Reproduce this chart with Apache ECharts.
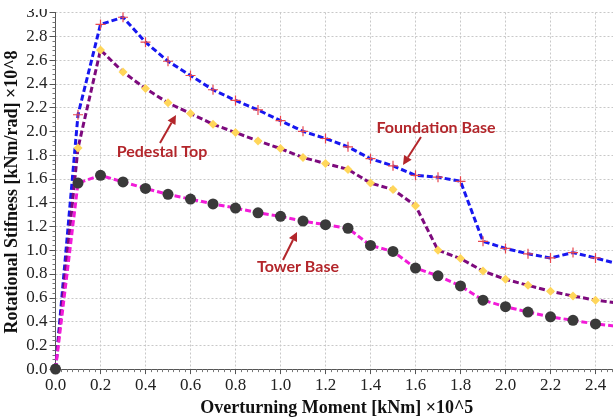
<!DOCTYPE html>
<html>
<head>
<meta charset="utf-8">
<script src="https://cdn.jsdelivr.net/npm/echarts@6/dist/echarts.min.js"></script>
<style>
html,body{margin:0;padding:0;overflow:hidden;background:#fff;width:613px;height:418px;}
#c{position:absolute;left:0;top:-8px;width:625px;height:430px;}
</style>
</head>
<body>
<div id="c"></div>
<script>
// ---- data ----
var moment = [0, 0.1, 0.2, 0.3, 0.4, 0.5, 0.6, 0.7, 0.8, 0.9, 1.0, 1.1, 1.2, 1.3, 1.4, 1.5, 1.6, 1.7, 1.8, 1.9, 2.0, 2.1, 2.2, 2.3, 2.4, 2.5];
var foundationBase = [0, 2.14, 2.90, 2.96, 2.75, 2.59, 2.47, 2.35, 2.26, 2.18, 2.09, 2.00, 1.94, 1.87, 1.77, 1.71, 1.63, 1.615, 1.58, 1.075, 1.015, 0.97, 0.935, 0.98, 0.935, 0.885];
var pedestalTop = [0, 1.86, 2.685, 2.50, 2.36, 2.24, 2.15, 2.06, 1.99, 1.92, 1.855, 1.78, 1.73, 1.68, 1.565, 1.51, 1.375, 1.00, 0.93, 0.825, 0.755, 0.705, 0.655, 0.615, 0.58, 0.555];
var towerBase = [0, 1.565, 1.63, 1.575, 1.52, 1.47, 1.43, 1.39, 1.355, 1.315, 1.285, 1.245, 1.215, 1.185, 1.04, 0.99, 0.85, 0.785, 0.70, 0.58, 0.525, 0.48, 0.44, 0.41, 0.38, 0.36];
var seriesNames = ['Foundation Base', 'Pedestal Top', 'Tower Base'];
var xTitle = 'Overturning Moment [kNm] \u00d710^5';
var yTitle = 'Rotational Stifness [kNm/rad] \u00d710^8';

function pairs(ys) {
  return moment.map(function (x, i) {
    var item = { value: [x, ys[i]] };
    if (i === moment.length - 1) item.symbol = 'none';
    return item;
  });
}

var red = '#b3262b';
var plusPath = 'path://M4.4,0h1.2v4.4h4.4v1.2h-4.4v4.4h-1.2v-4.4h-4.4v-1.2h4.4z';

function arrow(x1, y1, x2, y2) {
  var dx = x2 - x1, dy = y2 - y1, L = Math.sqrt(dx * dx + dy * dy);
  var ux = dx / L, uy = dy / L, hl = 9, hw = 4.5;
  var bx = x2 - ux * hl, by = y2 - uy * hl;
  return [
    { type: 'line', shape: { x1: x1, y1: y1, x2: bx, y2: by }, style: { stroke: red, lineWidth: 2 }, z: 100 },
    { type: 'polygon', shape: { points: [[x2, y2], [bx - uy * hw, by + ux * hw], [bx + uy * hw, by - ux * hw]] }, style: { fill: red }, z: 100 }
  ];
}

var off = 8; // container shifted up by 8px
var annFont = 'bold 16px Lato, "Open Sans", sans-serif';
var graphics = [
  // page crop at the top edge (the reference cuts the top tick label)
  { type: 'rect', shape: { x: 0, y: 0, width: 50, height: 9 + off }, style: { fill: '#fff' }, z: 200, zlevel: 1 },
  { type: 'text', x: 12, y: 192 + off, rotation: Math.PI / 2,
    style: { text: yTitle, font: 'bold 18px "Liberation Serif", "Times New Roman", serif', fill: '#111', textAlign: 'center', textVerticalAlign: 'middle' }, z: 100 },
  { type: 'text', x: 436, y: 128 + off, style: { text: seriesNames[0], font: annFont, fill: red, textAlign: 'center', textVerticalAlign: 'middle' }, z: 100 },
  { type: 'text', x: 162, y: 152 + off, style: { text: seriesNames[1], font: annFont, fill: red, textAlign: 'center', textVerticalAlign: 'middle' }, z: 100 },
  { type: 'text', x: 298, y: 267 + off, style: { text: seriesNames[2], font: annFont, fill: red, textAlign: 'center', textVerticalAlign: 'middle' }, z: 100 }
].concat(arrow(421, 137 + off, 403, 165 + off))
 .concat(arrow(160, 143 + off, 176, 115 + off))
 .concat(arrow(283, 260 + off, 297, 232 + off));

var chart = echarts.init(document.getElementById('c'), null, { renderer: 'canvas' });
var serifFont = '"Liberation Serif", "Times New Roman", serif';
chart.setOption({
  animation: false,
  backgroundColor: '#fff',
  grid: { left: 55.5, right: 7, top: 20.5, bottom: 44.5, containLabel: false },
  xAxis: {
    type: 'value', min: 0, max: 2.5, interval: 0.2,
    name: xTitle, nameLocation: 'middle', nameGap: 26,
    nameTextStyle: { fontFamily: serifFont, fontWeight: 'bold', fontSize: 18, color: '#111', verticalAlign: 'top' },
    axisLine: { show: true, onZero: false, lineStyle: { color: '#555', width: 1 } },
    axisTick: { show: true, inside: false, length: 5, lineStyle: { color: '#555' } },
    minorTick: { show: true, splitNumber: 8, length: 3, lineStyle: { color: '#777' } },
    axisLabel: { fontFamily: serifFont, fontSize: 17, color: '#222', margin: 8, showMaxLabel: false,
      formatter: function (v) { return v.toFixed(1); } },
    splitLine: { show: true, lineStyle: { color: '#c8c8c8', type: [2, 2], width: 1 } }
  },
  yAxis: {
    type: 'value', min: 0, max: 3.0, interval: 0.2,
    axisLine: { show: true, onZero: false, lineStyle: { color: '#555', width: 1 } },
    axisTick: { show: true, inside: false, length: 6, lineStyle: { color: '#555' } },
    minorTick: { show: true, splitNumber: 5, length: 3, lineStyle: { color: '#777' } },
    axisLabel: { fontFamily: serifFont, fontSize: 17, color: '#222', margin: 8,
      formatter: function (v) { return v.toFixed(1); } },
    splitLine: { show: true, lineStyle: { color: '#c8c8c8', type: [2, 2], width: 1 } }
  },
  series: [
    { name: seriesNames[0], type: 'line', data: pairs(foundationBase), z: 2,
      lineStyle: { color: '#1717f0', width: 3, type: [6, 3] },
      symbol: plusPath, symbolSize: 10, itemStyle: { color: '#e8464e' } },
    { name: seriesNames[1], type: 'line', data: pairs(pedestalTop), z: 3,
      lineStyle: { color: '#7d0a7d', width: 3, type: [6, 3] },
      symbol: 'diamond', symbolSize: 9, itemStyle: { color: '#ffd65a' } },
    { name: seriesNames[2], type: 'line', data: pairs(towerBase), z: 4,
      lineStyle: { color: '#f21bd8', width: 3, type: [6, 3] },
      symbol: 'circle', symbolSize: 11, itemStyle: { color: '#3a3a3a' } }
  ],
  graphic: graphics
});
</script>
</body>
</html>
